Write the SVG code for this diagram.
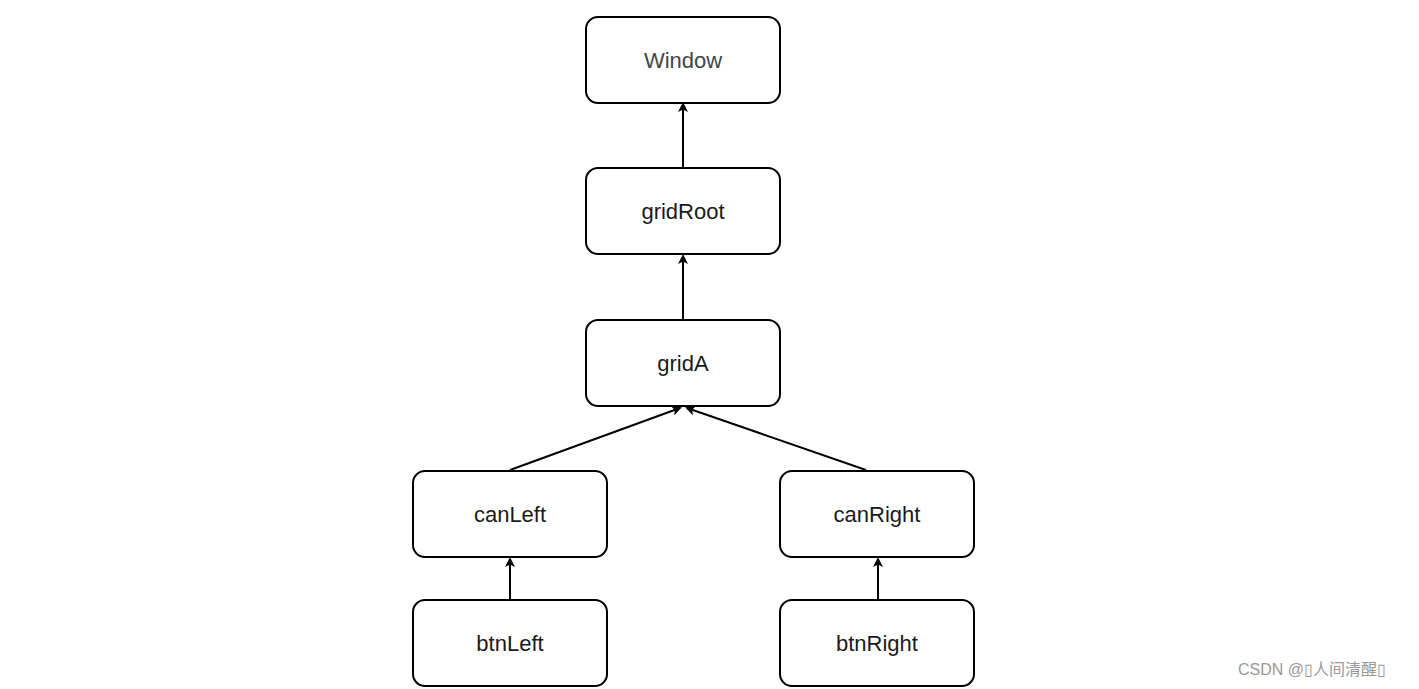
<svg xmlns="http://www.w3.org/2000/svg" width="1419" height="689" viewBox="0 0 1419 689">
<style>
.n rect{fill:#fff;stroke:#000;stroke-width:2}
.n text{font-family:"Liberation Sans",Arial,sans-serif;font-size:22px;fill:#1a1a1a;text-anchor:middle;dominant-baseline:central}
.c path{fill:none;stroke:#000;stroke-width:2;marker-end:url(#a)}
.w{font-family:"Liberation Sans","Noto Sans CJK SC",sans-serif;font-size:16px;fill:#999}
</style>
<defs><marker id="a" markerWidth="10" markerHeight="10" refX="8" refY="5" orient="auto" markerUnits="userSpaceOnUse"><path d="M0,0 L10,5 L0,10 L2.5,5 Z" fill="#000"/></marker></defs>
<rect width="1419" height="689" fill="#fff"/>
<g class="c">
<path d="M683,168 L683,104"/>
<path d="M683,320 L683,256"/>
<path d="M510,470 L680,408"/>
<path d="M866,470 L687,408"/>
<path d="M510,600 L510,559"/>
<path d="M878,600 L878,559"/>
</g>
<g id="window" class="n"><rect x="586" y="17" width="194" height="86" rx="12"/><text x="683" y="60" fill="#444" style="fill:#444">Window</text></g>
<g id="gridRoot" class="n"><rect x="586" y="168" width="194" height="86" rx="12"/><text x="683" y="211">gridRoot</text></g>
<g id="gridA" class="n"><rect x="586" y="320" width="194" height="86" rx="12"/><text x="683" y="363">gridA</text></g>
<g id="canLeft" class="n"><rect x="413" y="471" width="194" height="86" rx="12"/><text x="510" y="514">canLeft</text></g>
<g id="canRight" class="n"><rect x="780" y="471" width="194" height="86" rx="12"/><text x="877" y="514">canRight</text></g>
<g id="btnLeft" class="n"><rect x="413" y="600" width="194" height="86" rx="12"/><text x="510" y="643">btnLeft</text></g>
<g id="btnRight" class="n"><rect x="780" y="600" width="194" height="86" rx="12"/><text x="877" y="643">btnRight</text></g>
<text class="w" x="1238" y="675">CSDN @▯人间清醒▯</text>
</svg>
